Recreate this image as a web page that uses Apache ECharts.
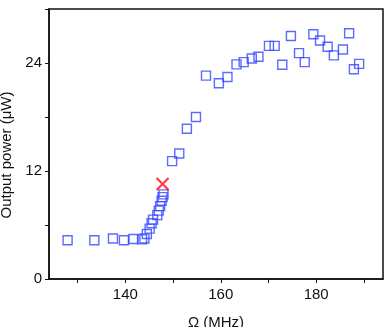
<!DOCTYPE html>
<html>
<head>
<meta charset="utf-8">
<script src="https://cdn.jsdelivr.net/npm/echarts@6/dist/echarts.min.js"></script>
<style>
    html, body { margin: 0; padding: 0; background: #fff; }
    #chart { width: 390px; height: 327px; }
</style>
</head>
<body>
<div id="chart"></div>
<script>
// measured output power vs drive frequency
var freq = [127.9, 133.5, 137.4, 139.7, 141.7, 143.5, 144.0, 144.5, 145.1, 145.5, 145.8, 146.7, 147.0, 147.3, 147.6, 147.8, 148.0,
    149.8, 151.3, 152.9, 154.8, 156.9, 159.6, 161.4, 163.3, 164.8, 166.5, 167.9, 170.1, 171.3, 172.9, 174.7, 176.4, 177.6,
    179.4, 180.8, 182.4, 183.7, 185.6, 186.9, 187.9, 189.0];
var power = [4.3, 4.3, 4.5, 4.3, 4.45, 4.4, 4.5, 5.0, 5.6, 6.2, 6.6, 7.1, 7.6, 8.1, 8.7, 9.1, 9.4,
    13.1, 13.95, 16.7, 18.0, 22.6, 21.75, 22.45, 23.85, 24.1, 24.5, 24.7, 25.9, 25.9, 23.8, 27.0, 25.1, 24.1,
    27.2, 26.5, 25.8, 24.85, 25.5, 27.3, 23.3, 23.9];
// highlighted point
var markFreq = [147.8];
var markPower = [10.56];

var xTicks = [130, 140, 150, 160, 170, 180, 190];
var xLabels = [140, 160, 180];

var pts = freq.map(function (f, i) { return [f, power[i]]; });
var markPts = markFreq.map(function (f, i) { return [f, markPower[i]]; });

var font = 'Liberation Sans';
var chart = echarts.init(document.getElementById('chart'));
chart.setOption({
    animation: false,
    grid: {
        left: 49, right: 7, top: 9, bottom: 48,
        containLabel: false, outerBoundsMode: 'none',
        show: true, borderColor: '#111', borderWidth: 1.5
    },
    xAxis: {
        type: 'value',
        min: 124, max: 194,
        name: 'Ω (MHz)',
        nameLocation: 'middle',
        nameGap: 36,
        nameTextStyle: {fontFamily: font, fontSize: 15, color: '#111'},
        splitLine: {show: false},
        axisLine: {lineStyle: {color: '#111', width: 1.5}},
        axisTick: {customValues: xTicks, length: 4, lineStyle: {color: '#111'}},
        axisLabel: {customValues: xLabels, margin: 8, fontFamily: font, fontSize: 15, color: '#111'}
    },
    yAxis: {
        type: 'value',
        min: 0, max: 30, interval: 6,
        name: 'Output power (μW)',
        nameLocation: 'middle',
        nameGap: 34,
        nameTextStyle: {fontFamily: font, fontSize: 15, color: '#111', padding: [0, 22, 0, 0]},
        splitLine: {show: false},
        axisLine: {show: true, lineStyle: {color: '#111', width: 1.5}},
        axisTick: {show: true, length: 4, lineStyle: {color: '#111'}},
        axisLabel: {
            margin: 7, fontFamily: font, fontSize: 15, color: '#111',
            formatter: function (v) { return v % 12 === 0 ? v : ''; }
        }
    },
    series: [{
        type: 'scatter',
        data: pts,
        symbol: 'rect',
        symbolSize: 9,
        itemStyle: {color: 'transparent', borderColor: '#3346ff', borderWidth: 1.4}
    }, {
        type: 'scatter',
        data: markPts,
        symbol: 'path://M0,0L10,10M10,0L0,10',
        symbolSize: 12,
        z: 5,
        itemStyle: {color: 'transparent', borderColor: '#ff0a0a', borderWidth: 2.2}
    }]
});
</script>
</body>
</html>
